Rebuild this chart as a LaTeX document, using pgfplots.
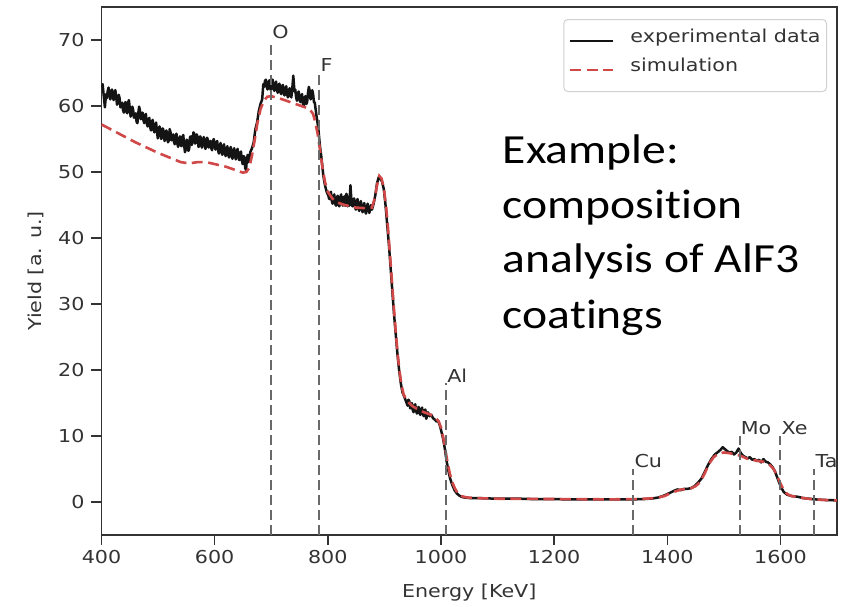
\documentclass[border=0pt]{standalone}
\usepackage{fontspec}
\setmainfont{DejaVu Sans}[FakeStretch=1.16]
\newfontfamily\calibri{Carlito}[FakeStretch=1.15, Ligatures=NoCommon, Contextuals=NoAlternate]
\usepackage{pgfplots}
\usepackage{pgfplotstable}
\pgfplotsset{compat=1.18}
\definecolor{simred}{RGB}{208,72,72}
\definecolor{axgray}{RGB}{51,51,51}
\definecolor{vgray}{RGB}{105,105,105}
\definecolor{expblack}{RGB}{20,20,20}

\pgfplotstableread{
x y
400 62.8
402 63.3
404 61.5
406 59.8
408 61.8
409.5 61.2
411 62.3
412.5 62.8
414 61.6
415.5 61.0
417 62.0
418.5 62.5
420 61.4
421.5 60.9
423 62.1
424.5 62.4
426 61.3
427.5 60.2
429 60.6
430.5 61.7
432 61.2
433.5 59.8
435 60.0
436.5 60.5
438 59.4
439.5 59.0
441 60.3
442.5 60.6
444 59.2
445.5 58.9
447 60.5
448.5 60.9
450 59.6
451.5 58.4
453 58.7
454.5 59.9
456 59.4
457.5 58.2
459 58.6
460.5 58.9
462 57.6
463.5 57.4
465 58.9
466.5 59.9
468 59.3
469.5 58.0
471 58.4
472.5 59.0
474 57.9
475.5 57.4
477 58.6
478.5 58.8
480 57.4
481.5 56.9
483 57.9
484.5 58.2
486 56.8
487.5 56.3
489 57.6
490.5 57.9
492 56.5
493.5 56.0
495 57.1
496.5 57.5
498 56.2
499.5 55.1
501 55.6
502.5 56.9
504 56.5
505.5 55.0
507 55.3
508.5 56.6
510 56.1
511.5 54.7
513 55.0
514.5 56.3
516 55.9
517.5 54.5
519 54.8
520.5 56.5
522 56.0
523.5 54.8
525 55.2
526.5 55.7
528 54.6
529.5 54.2
531 55.5
532.5 55.8
534 54.3
535.5 53.8
537 55.0
538.5 55.4
540 54.1
541.5 53.9
543 55.3
544.5 55.6
546 54.2
547.5 53.0
549 53.4
550.5 54.9
552 54.7
553.5 53.2
555 53.5
556.5 55.3
558 55.4
559.5 54.1
561 54.6
562.5 56.0
564 55.8
565.5 54.3
567 54.5
568.5 55.7
570 55.2
571.5 53.8
573 54.0
574.5 55.4
576 55.0
577.5 53.7
579 54.2
580.5 55.3
582 54.8
583.5 53.5
585 53.8
586.5 55.2
588 54.9
589.5 53.7
591 54.1
592.5 54.7
594 53.6
595.5 53.3
597 54.7
598.5 55.0
600 53.9
601.5 53.4
603 54.4
604.5 54.7
606 53.3
607.5 52.8
609 54.0
610.5 54.4
612 53.1
613.5 52.6
615 53.8
616.5 54.2
618 52.9
619.5 52.4
621 53.6
622.5 53.9
624 52.6
625.5 52.2
627 53.4
628.5 53.8
630 52.5
631.5 52.0
633 53.2
634.5 53.6
636 52.4
637.5 51.9
639 53.1
640.5 53.5
642 52.3
643.5 51.8
645 52.9
646.5 53.1
648 51.8
649.5 51.2
651 52.4
652.5 52.3
654 50.6
655.5 50.3
657 52.0
658.5 52.6
660 51.5
663 53.0
666 53.6
669 54.5
672 56.5
675 57.5
678 59.2
681 60.3
684 61.0
686 63.3
687.5 62.9
689 63.8
690.5 64.0
692 62.9
693.5 62.5
695 63.5
696.5 63.9
698 62.7
699.5 62.4
701 63.6
702.5 64.0
704 62.8
705.5 62.3
707 63.3
708.5 63.7
710 62.5
711.5 62.0
713 63.0
714.5 63.4
716 62.2
717.5 61.8
719 62.9
720.5 63.2
722 62.0
723.5 61.6
725 62.6
726.5 63.0
728 61.8
729.5 61.3
731 62.3
732.5 62.7
734 61.6
735.5 61.3
737 62.4
739 64.6
741 62.2
742.5 62.5
744 61.3
745.5 60.8
747 61.9
748.5 62.2
750 61.0
751.5 60.6
753 61.6
754.5 61.8
756 60.4
757.5 60.1
759 61.2
760.5 61.5
762 60.3
763.5 60.6
765 62.0
766.5 62.9
768 62.3
769.5 61.0
771 61.4
772.5 62.4
774 61.8
775.5 60.6
777 60.5
780 58.5
783 56.8
786 54.0
789 52.0
792 49.5
795 48.0
798 47.0
801 46.4
802.5 45.9
804 46.8
805.5 47.0
807 45.6
808.5 45.2
810 46.3
811.5 46.6
813 45.2
814.5 44.9
816 46.0
817.5 46.4
819 45.0
820.5 44.8
822 46.1
823.5 46.6
825 45.3
826.5 44.9
828 45.9
829 46.3
830 45.0
831 44.9
832 46.4
833 46.7
834 45.2
835 44.8
836 46.0
837 46.3
838 44.9
840 48.0
842 45.3
843.5 44.8
845 45.8
846.5 46.0
848 44.7
849.5 44.3
851 45.5
852.5 45.9
854 44.6
855.5 44.1
857 45.2
858.5 45.6
860 44.5
861.5 43.9
863 44.9
864.5 45.3
866 44.1
867.5 43.7
869 44.7
870.5 45.2
872 44.2
873.5 43.8
875 44.6
876.5 45.0
878 44.3
881 45.2
884 46.5
887 48.3
890 49.2
893 49.0
896 48.5
899 47.4
902 45.0
905 42.0
908 39.0
911 35.5
914 32.0
917 28.5
920 25.5
923 22.5
926 20.0
929 18.0
932 16.6
935 16.0
938 15.3
941 14.6
942.5 15.5
944 15.3
945.5 14.2
947 14.3
948.5 15.0
950 14.0
951.5 13.6
953 14.6
954.5 14.8
956 13.8
957.5 13.4
959 14.2
960.5 14.4
962 13.5
963.5 13.2
965 14.0
966.5 14.3
968 13.4
969.5 13.0
971 13.9
972.5 14.0
974 12.6
977 13.6
980 13.0
983 13.2
986 12.7
989 12.5
992 12.2
995 12.3
998 11.6
1001 10.6
1004 9.5
1007 8.0
1010 6.2
1013 4.8
1016 3.6
1020 2.6
1024 1.8
1028 1.3
1032 1.0
1036 0.8
1040 0.7
1050 0.6
1060 0.6
1080 0.55
1100 0.5
1120 0.5
1140 0.5
1160 0.45
1180 0.45
1200 0.45
1220 0.4
1240 0.4
1260 0.4
1280 0.4
1300 0.4
1320 0.4
1340 0.4
1360 0.45
1375 0.55
1385 0.7
1395 1.0
1405 1.4
1412 1.7
1418 1.9
1424 1.8
1430 2.0
1436 2.0
1442 2.1
1448 2.4
1454 2.9
1460 3.5
1466 4.5
1472 5.6
1478 6.5
1484 7.2
1490 7.6
1494 7.9
1498 8.3
1502 8.0
1506 7.7
1510 7.5
1514 7.6
1518 7.2
1522 7.5
1526 8.1
1530 7.4
1534 7.0
1538 6.8
1542 6.6
1546 6.8
1550 6.4
1554 6.5
1558 6.2
1562 6.4
1566 6.0
1570 6.5
1574 6.1
1578 6.0
1582 5.7
1586 5.3
1590 4.7
1594 3.8
1598 2.9
1602 2.1
1606 1.5
1612 1.1
1620 0.9
1630 0.8
1640 0.6
1650 0.5
1660 0.4
1680 0.3
1700 0.25
}\expdata

\pgfplotstableread{
x y
400 57.2
420 56.3
440 55.4
460 54.5
480 53.7
500 52.9
520 52.2
540 51.5
555 51.3
570 51.5
585 51.5
600 51.2
620 50.8
640 50.2
650 49.9
656 50.0
661 50.6
666 52.5
671 55.0
676 57.6
681 59.5
687 60.8
693 61.4
700 61.5
720 61.0
740 60.4
760 59.8
768 59.5
774 58.8
778 57.5
782 55.8
786 53.5
790 51.0
795 48.5
800 47.0
808 46.0
816 45.4
830 45.0
850 44.6
870 44.5
878 44.6
883 46.0
887 48.0
891 49.4
895 49.0
899 47.6
903 44.8
906 42.0
909 38.5
912 35.0
915 31.5
918 28.0
921 24.8
924 22.0
927 19.7
930 17.8
934 16.3
940 15.3
950 14.5
960 14.0
970 13.6
980 13.3
990 12.8
996 12.2
1000 11.3
1004 9.8
1008 7.8
1012 5.8
1016 4.2
1020 3.0
1025 2.0
1030 1.3
1036 0.9
1045 0.7
1060 0.6
1100 0.5
1200 0.45
1300 0.4
1350 0.45
1380 0.6
1395 0.9
1410 1.5
1425 1.9
1440 2.0
1450 2.4
1458 3.0
1466 4.3
1474 5.8
1482 6.8
1490 7.3
1500 7.5
1510 7.4
1520 7.2
1530 7.0
1540 6.6
1555 6.3
1570 6.1
1580 5.7
1588 5.0
1594 4.0
1600 2.8
1606 1.8
1612 1.2
1620 0.9
1640 0.6
1660 0.4
1680 0.3
1700 0.25
}\simdata

\begin{document}
\begin{tikzpicture}
\begin{axis}[
  scale only axis, width=735.5pt, height=528pt,
  xmin=400, xmax=1700, ymin=-5, ymax=75,
  xtick={400,600,...,1600}, ytick={0,10,...,70},
  /pgf/number format/assume math mode=true,
  /pgf/number format/1000 sep={},
  tick pos=left, tick align=outside, major tick length=10pt,
  tick style={axgray, line width=1.5pt},
  axis line style={axgray, line width=1.7pt},
  tick label style={font=\fontsize{17.8}{21}\selectfont, text=axgray},
  xticklabel style={yshift=-2pt},
  yticklabel style={xshift=-3.5pt},
  label style={font=\fontsize{17.8}{21}\selectfont, text=axgray},
  xlabel={Energy [KeV]},
  ylabel={Yield [a. u.]},
  xlabel style={at={(axis description cs:0.5,-0.1193)}, anchor=base},
  ylabel style={at={(axis description cs:-0.081,0.5)}, anchor=base},
  legend cell align=left,
  legend image code/.code={\draw[#1] (0pt,0pt) -- (43pt,0pt);},
  legend style={at={(axis description cs:1,1)}, anchor=north east,
    xshift=-10pt, yshift=-12pt, draw=black!18, line width=1pt,
    rounded corners=4pt, fill=white, text=axgray,
    font=\fontsize{17.8}{21}\selectfont,
    inner xsep=5pt, inner ysep=9pt, row sep=4pt, column sep=15pt,
    nodes={inner sep=1pt, text height=13pt, text depth=10pt}},
]
\addplot[expblack, line width=2.5pt, line join=round] table[x=x,y=y] {\expdata};
\addlegendentry{experimental data}
\addplot[simred, line width=2.6pt, dash pattern=on 11pt off 5.5pt] table[x=x,y=y] {\simdata};
\addlegendentry{simulation}

\addplot[forget plot, vgray, line width=2pt, dash pattern=on 10pt off 5pt] coordinates {(700,-5) (700,70)};
\addplot[forget plot, vgray, line width=2pt, dash pattern=on 10pt off 5pt] coordinates {(785,-5) (785,65)};
\addplot[forget plot, vgray, line width=2pt, dash pattern=on 10pt off 5pt] coordinates {(1009,-5) (1009,18)};
\addplot[forget plot, vgray, line width=2pt, dash pattern=on 10pt off 5pt] coordinates {(1340,-5) (1340,5)};
\addplot[forget plot, vgray, line width=2pt, dash pattern=on 10pt off 5pt] coordinates {(1528,-5) (1528,10)};
\addplot[forget plot, vgray, line width=2pt, dash pattern=on 10pt off 5pt] coordinates {(1600,-5) (1600,10)};
\addplot[forget plot, vgray, line width=2pt, dash pattern=on 10pt off 5pt] coordinates {(1660,-5) (1660,5)};

\begin{scope}[every node/.style={anchor=south west, inner sep=1pt, text=axgray, font=\fontsize{17.8}{21}\selectfont}]
\node at (axis cs:700,70) {O};
\node at (axis cs:785,65) {F};
\node at (axis cs:1009,18) {Al};
\node at (axis cs:1340,5) {Cu};
\node at (axis cs:1528,10) {Mo};
\node at (axis cs:1600,10) {Xe};
\node at (axis cs:1660,5) {Ta};
\end{scope}

\begin{scope}[every node/.style={anchor=base west, inner sep=0pt, text=black, font=\calibri\fontsize{41.4}{55}\selectfont}]
\node at (axis cs:1109,51.36) {Example:};
\node at (axis cs:1109,43.03) {composition};
\node at (axis cs:1109,34.70) {analysis of AlF3};
\node at (axis cs:1109,26.36) {coatings};
\end{scope}
\end{axis}
\path (-101.5pt,-71pt) rectangle (744.5pt,535pt);
\end{tikzpicture}
\end{document}
